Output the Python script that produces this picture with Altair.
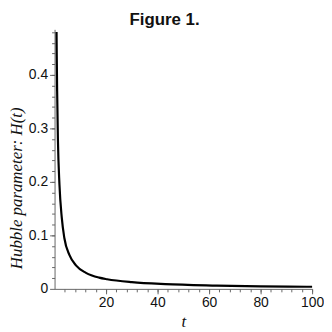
import altair as alt
import pandas as pd

# values
t_vals = [0.77, 0.85, 1.0, 1.3, 1.9, 2.8, 3.8, 5.8, 8.3, 12.2, 17.3, 20.4, 30, 43, 63, 80, 98, 100]
h_vals = [0.48, 0.435, 0.37, 0.28, 0.195, 0.133, 0.095, 0.063, 0.044, 0.030, 0.021, 0.018,
          0.0125, 0.0088, 0.0062, 0.0048, 0.0040, 0.0039]
x_major = [20, 40, 60, 80, 100]
x_minor = [4 * i for i in range(1, 26)]
y_major = [0, 0.1, 0.2, 0.3, 0.4]
y_minor = [round(0.02 * i, 2) for i in range(1, 25)]

df = pd.DataFrame({"t": t_vals, "H": h_vals})

xscale = alt.Scale(domain=[0, 100], nice=False, zero=False)
yscale = alt.Scale(domain=[0, 0.485], nice=False, zero=False)

axis_common = dict(
    domainColor="#666666", tickColor="#666666", labelColor="#111111",
    labelFont="Liberation Sans", labelFontSize=14, grid=False, labelFlush=False,
    titleFont="Liberation Serif", titleFontStyle="italic", titleFontWeight="normal",
    titleColor="#111111",
)

main = alt.Chart(df).mark_line(color="black", strokeWidth=2.2, interpolate="monotone").encode(
    x=alt.X("t:Q", scale=xscale, axis=alt.Axis(
        values=x_major, tickSize=5, labelPadding=2, title="t", titleFontSize=17,
        titleY=38, titleBaseline="alphabetic", orient="bottom", **axis_common)),
    y=alt.Y("H:Q", scale=yscale, axis=alt.Axis(
        values=y_major, tickSize=5, labelPadding=2, format="~g", title="Hubble parameter: H(t)",
        titleFontSize=17, titleX=-38, titleY=160, titleBaseline="middle", titleAngle=270,
        orient="left", **axis_common)),
)

minor = alt.Chart(df).mark_line(opacity=0).encode(
    x=alt.X("t:Q", scale=xscale, axis=alt.Axis(
        values=x_minor, tickSize=3, labels=False, domain=False, title=None,
        tickColor="#666666", grid=False, orient="bottom")),
    y=alt.Y("H:Q", scale=yscale, axis=alt.Axis(
        values=y_minor, tickSize=3, labels=False, domain=False, title=None,
        tickColor="#666666", grid=False, orient="left")),
)

chart = alt.layer(main, minor).resolve_axis(x="independent", y="independent").properties(
    width=260, height=262,
    autosize=alt.AutoSizeParams(type="none"),
    padding={"left": 47, "top": 20, "right": 12, "bottom": 42},
    title=alt.TitleParams("Figure 1.", font="Liberation Sans", fontSize=17, fontWeight="bold",
                          color="#111111", anchor="middle", dx=-19, offset=-1),
).configure_view(stroke=None)

chart.save("out.html", embed_options={"renderer": "svg", "actions": False})
